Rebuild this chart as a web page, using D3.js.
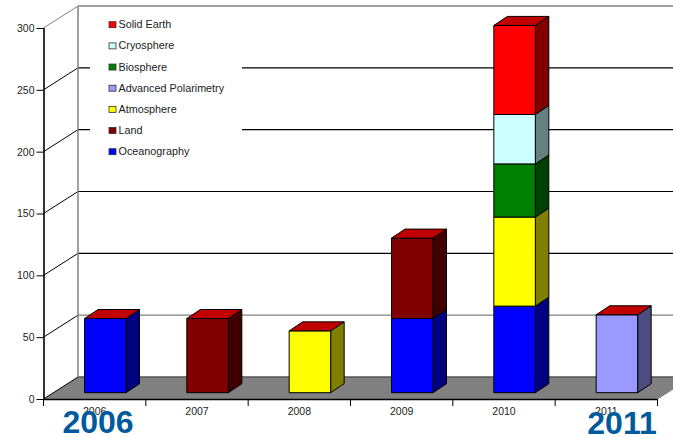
<!DOCTYPE html>
<html>
<head>
<meta charset="utf-8">
<script src="https://cdn.jsdelivr.net/npm/d3@7/dist/d3.min.js"></script>
<style>
  html, body { margin: 0; padding: 0; background: #fff; }
  svg { display: block; }
  text { font-family: "Liberation Sans", Arial, sans-serif; }
</style>
</head>
<body>
<svg id="chart" width="673" height="437"></svg>
<script>
const years = ["2006", "2007", "2008", "2009", "2010", "2011"];
const seriesNames = ["Oceanography", "Land", "Atmosphere", "Advanced Polarimetry", "Biosphere", "Cryosphere", "Solid Earth"];
const oceanography = [60, 0, 0, 60, 70, 0];
const land = [0, 60, 0, 65, 0, 0];
const atmosphere = [0, 0, 50, 0, 72, 0];
const advancedPolarimetry = [0, 0, 0, 0, 0, 63];
const biosphere = [0, 0, 0, 0, 43, 0];
const cryosphere = [0, 0, 0, 0, 40, 0];
const solidEarth = [0, 0, 0, 0, 72, 0];
const frontColors = ["#0000ff", "#800000", "#ffff00", "#9999ff", "#008000", "#ccffff", "#ff0000"];
const sideColors = ["#000080", "#400000", "#808000", "#4d4d80", "#004000", "#668080", "#800000"];
const capColor = "#c00000";
const yTicks = [0, 50, 100, 150, 200, 250, 300];
const callouts = [
  { text: "2006", x: 98, y: 432.5 },
  { text: "2011", x: 622, y: 434 }
];

const svg = d3.select("#chart");
const x = d3.scaleBand().domain(years).range([43.5, 657.5]);
const y = d3.scaleLinear().domain([0, 300]).range([399, 28]);

// 3D projection offsets
const wall = { dx: 34.5, dy: -22 };
const bar = { inset: 41, width: 41.5, lift: -6.3, dx: 13.5, dy: -9 };

const rows = years.map((year, i) => ({
  year,
  "Oceanography": oceanography[i],
  "Land": land[i],
  "Atmosphere": atmosphere[i],
  "Advanced Polarimetry": advancedPolarimetry[i],
  "Biosphere": biosphere[i],
  "Cryosphere": cryosphere[i],
  "Solid Earth": solidEarth[i]
}));
const stacked = d3.stack().keys(seriesNames)(rows);

const x0 = x.range()[0], x1 = x.range()[1];
const poly = pts => pts.map(p => p.join(",")).join(" ");

// Floor
svg.append("polygon")
  .attr("points", poly([[x0, y(0)], [x0 + wall.dx, y(0) + wall.dy], [x1 + wall.dx, y(0) + wall.dy], [x1, y(0)]]))
  .attr("fill", "#808080");
svg.append("line")
  .attr("x1", x0 + wall.dx).attr("x2", 673)
  .attr("y1", y(0) + wall.dy).attr("y2", y(0) + wall.dy)
  .attr("stroke", "#555").attr("stroke-width", 1.5);

// Back wall gridlines and the diagonals on the side wall
const gridStroke = t => (t === 50 || t === 300) ? "#808080" : "#000";
svg.append("g").selectAll("line.grid").data(yTicks.slice(1)).join("line")
  .attr("x1", x0 + wall.dx).attr("x2", 673)
  .attr("y1", d => y(d) + wall.dy).attr("y2", d => y(d) + wall.dy)
  .attr("stroke", gridStroke)
  .attr("stroke-width", d => d === 300 ? 1.5 : 1.2);
svg.append("g").selectAll("line").data(yTicks).join("line")
  .attr("x1", x0).attr("x2", x0 + wall.dx)
  .attr("y1", d => y(d)).attr("y2", d => y(d) + wall.dy)
  .attr("stroke", d => d === 300 ? "#808080" : "#000")
  .attr("stroke-width", 1);
svg.append("line")
  .attr("x1", x0 + wall.dx).attr("x2", x0 + wall.dx)
  .attr("y1", y(300) + wall.dy).attr("y2", y(0) + wall.dy)
  .attr("stroke", "#808080").attr("stroke-width", 1.5);

// Legend panel masks the gridlines behind it
const legendX = 90, legendTop = 14, legendW = 152, legendH = 148;
svg.append("rect")
  .attr("x", legendX).attr("y", legendTop)
  .attr("width", legendW).attr("height", legendH)
  .attr("fill", "#fff");

// Bars
const barLayer = svg.append("g");
stacked.forEach((layer, s) => {
  layer.forEach((d, i) => {
    if (d[1] === d[0]) return;
    const left = x(years[i]) + bar.inset;
    const right = left + bar.width;
    const top = y(d[1]) + bar.lift;
    const bottom = y(d[0]) + bar.lift;
    const g = barLayer.append("g").attr("stroke", "#000").attr("stroke-width", 1).attr("stroke-linejoin", "round");
    g.append("polygon")
      .attr("points", poly([[right, bottom], [right + bar.dx, bottom + bar.dy], [right + bar.dx, top + bar.dy], [right, top]]))
      .attr("fill", sideColors[s]);
    g.append("rect")
      .attr("x", left).attr("y", top)
      .attr("width", bar.width).attr("height", bottom - top)
      .attr("fill", frontColors[s]);
    const total = d3.sum(seriesNames, k => rows[i][k]);
    if (d[1] === total) {
      g.append("polygon")
        .attr("points", poly([[left, top], [left + bar.dx, top + bar.dy], [right + bar.dx, top + bar.dy], [right, top]]))
        .attr("fill", capColor);
    }
  });
});

// Axes
const yAxis = d3.axisLeft(y).tickValues(yTicks).tickSize(7).tickPadding(2);
const yG = svg.append("g").attr("transform", `translate(${x0},0)`).call(yAxis);
const xAxis = d3.axisBottom(x).tickSize(0).tickPadding(9);
const xG = svg.append("g").attr("transform", `translate(0,${y(0)})`).call(xAxis);
[yG, xG].forEach(g => {
  g.selectAll("path").attr("stroke", "#000").attr("stroke-width", 1.6);
  g.selectAll("line").attr("stroke", "#000");
  g.selectAll("text").attr("fill", "#222").style("font-family", '"Liberation Sans", Arial, sans-serif').style("font-size", "10.5px");
});
yG.select("path").attr("d", `M0.5,${y(300)}V${y(0)}`);
xG.select("path").attr("d", `M${x0},0.5H${x1}`);
// Category dividers sit between the bands
xG.selectAll("line.divider")
  .data(d3.range(years.length + 1))
  .join("line")
  .attr("class", "divider")
  .attr("x1", i => x0 + i * x.step()).attr("x2", i => x0 + i * x.step())
  .attr("y1", 0).attr("y2", 7)
  .attr("stroke", "#000");
svg.append("line")
  .attr("x1", x1).attr("y1", y(0))
  .attr("x2", x1 + wall.dx).attr("y2", y(0) + wall.dy)
  .attr("stroke", "#808080");

// Legend entries, top to bottom
const legendY = d3.scalePoint().domain(seriesNames.slice().reverse()).range([24.7, 151.7]);
const legend = svg.append("g").selectAll("g").data(seriesNames).join("g")
  .attr("transform", d => `translate(109,${legendY(d)})`);
legend.append("rect")
  .attr("x", 0).attr("y", -3).attr("width", 7).attr("height", 6)
  .attr("fill", d => frontColors[seriesNames.indexOf(d)])
  .attr("stroke", "#333").attr("stroke-width", 0.8);
legend.append("text")
  .attr("x", 9.5).attr("y", 3.6)
  .attr("fill", "#222")
  .style("font-size", "10.8px")
  .text(d => d);

// Large year callouts laid over the first and last category
svg.append("g").selectAll("text").data(callouts).join("text")
  .attr("x", d => d.x).attr("y", d => d.y)
  .attr("text-anchor", "middle")
  .attr("fill", "#005a9c")
  .style("font-size", "32px")
  .style("font-weight", "bold")
  .text(d => d.text);
</script>
</body>
</html>
